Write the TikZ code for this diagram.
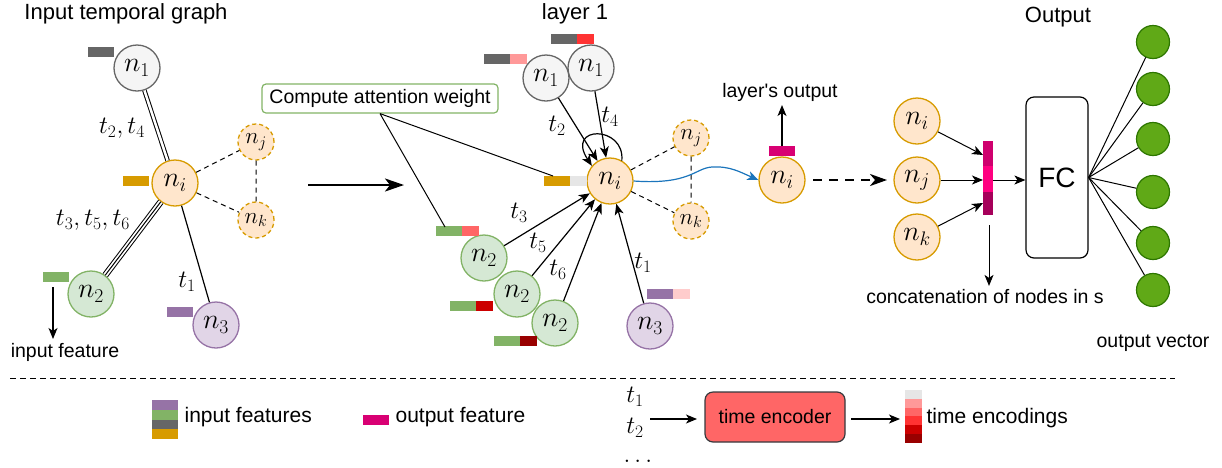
\RequirePackage{fix-cm}
\documentclass[tikz,border=0pt]{standalone}
\usepackage{fontspec}
\setsansfont{Liberation Sans}[Ligatures=TeXOff]
\usepackage{amsmath}
\usetikzlibrary{arrows.meta, positioning, calc}
\definecolor{grayF}{HTML}{F5F5F5}
\definecolor{grayD}{HTML}{666666}
\definecolor{orangeF}{HTML}{FFE6CC}
\definecolor{orangeD}{HTML}{D79B00}
\definecolor{greenF}{HTML}{D5E8D4}
\definecolor{greenD}{HTML}{82B366}
\definecolor{purpleF}{HTML}{E1D5E7}
\definecolor{purpleD}{HTML}{9673A6}
\definecolor{outF}{HTML}{60A917}
\definecolor{outD}{HTML}{2D7600}
\definecolor{outMag}{HTML}{D80073}
\definecolor{catA}{HTML}{CF006E}
\definecolor{catB}{HTML}{FF0080}
\definecolor{catC}{HTML}{A6005A}
\definecolor{encA}{HTML}{E6E6E6}
\definecolor{encB}{HTML}{FF9999}
\definecolor{encC}{HTML}{FF6666}
\definecolor{encD}{HTML}{FF3333}
\definecolor{encE}{HTML}{CC0000}
\definecolor{encF}{HTML}{990000}
\definecolor{encG}{HTML}{FFCCCC}
\definecolor{teD}{HTML}{36393D}
\definecolor{flowBlue}{HTML}{1B75BC}

\begin{document}
\begin{tikzpicture}[x=1pt, y=-1pt, line width=1.2pt, font=\sffamily\fontsize{19.5}{23}\selectfont,
  nd/.style={circle, draw, line width=1.3pt, minimum size=46pt, inner sep=0pt, font=\fontsize{28}{32}\selectfont},
  ndGray/.style={nd, draw=grayD, fill=grayF},
  ndOrange/.style={nd, draw=orangeD, fill=orangeF},
  ndGreen/.style={nd, draw=greenD, fill=greenF},
  ndPurple/.style={nd, draw=purpleD, fill=purpleF},
  ndNbr/.style={ndOrange, minimum size=36pt, dash pattern=on 4pt off 3pt, font=\fontsize{23}{27}\selectfont},
  ndOut/.style={circle, draw=outD, fill=outF, minimum size=33pt, inner sep=0pt},
  tlab/.style={font=\fontsize{25}{29}\selectfont, inner sep=1pt},
  title/.style={font=\sffamily\fontsize{22}{26}\selectfont},
  legend/.style={font=\sffamily\fontsize{21}{25}\selectfont, anchor=west, inner sep=0pt},
  arr/.style={-{Stealth[length=11pt, width=9pt, inset=3pt]}},
  dashln/.style={line width=1pt, dash pattern=on 5pt off 4pt},
]
\useasboundingbox (0,0) rectangle (1222,467);

% input temporal graph
\node[title] (tg) at (126,14) {Input temporal graph};
\node[ndGray] (a1) at (137,68) {$n_1$};
\node[ndOrange] (ai) at (175,183) {$n_i$};
\node[ndNbr] (aj) at (256,142) {$n_j$};
\node[ndNbr] (ak) at (256,220) {$n_k$};
\node[ndGreen] (a2) at (91,294) {$n_2$};
\node[ndPurple] (a3) at (216,325) {$n_3$};
\foreach \x/\y/\c in {88/47/grayD, 123/176/orangeD, 43/272/greenD, 167/307/purpleD}
  \fill[\c] (\x,\y) rectangle ++(26,10);
\draw[double, double distance=2.5pt, line width=1pt] (a1) -- (ai);
\draw[double, double distance=4.5pt, line width=1pt] (a2) -- (ai);
\draw[line width=1pt] (a2) -- (ai);
\draw (ai) -- (a3);
\draw[dashln] (ai) -- (aj) (ai) -- (ak) (aj) -- (ak);
\node[tlab] (l24) at (122,128) {$t_2,t_4$};
\node[tlab] (l356) at (93,220) {$t_3,t_5,t_6$};
\node[tlab] (l1) at (187,282) {$t_1$};
\coordinate (f0) at (53,287);
\node (fl) at (65,352) {input feature};
\draw[arr] (f0) -- (fl.north -| f0);

% big arrow to layer
\coordinate (m0) at (308,185);
\coordinate (m1) at (404,185);
\draw[-{Stealth[length=19pt, width=13pt, inset=5pt]}, line width=2.4pt] (m0) -- (m1);

% layer 1
\node[title] (tl) at (575,14) {layer 1};
\node[ndOrange] (bi) at (610,181) {$n_i$};
\node[ndGray] (b1a) at (546,78) {$n_1$};
\node[ndGray] (b1b) at (591,68) {$n_1$};
\node[ndGreen] (b2a) at (484,258) {$n_2$};
\node[ndGreen] (b2b) at (517,294) {$n_2$};
\node[ndGreen] (b2c) at (555,323) {$n_2$};
\node[ndPurple] (b3) at (650,326) {$n_3$};
\node[ndNbr] (bj) at (691,138) {$n_j$};
\node[ndNbr] (bk) at (691,221) {$n_k$};
\foreach \x/\y/\ca/\cb in {484/54/grayD/encB, 551/34/grayD/encD, 544/176/orangeD/encA,
    436/226/greenD/encC, 450/301/greenD/encE, 494/336/greenD/encF, 647/289/purpleD/encG}{
  \fill[\ca] (\x,\y) rectangle ++(26,10);
  \fill[\cb] (\x+26,\y) rectangle ++(17,10);
}
\foreach \src in {b1a, b1b, b2a, b2b, b2c, b3}
  \draw[arr] (\src) -- (bi);
\draw[arr] (bi.60) .. controls (625,125) and (565,125) .. (bi.140);
\draw[dashln] (bi) -- (bj) (bi) -- (bk) (bj) -- (bk);
\node[tlab] (lt2) at (557,126) {$t_2$};
\node[tlab] (lt4) at (610,117) {$t_4$};
\node[tlab] (lt3) at (519,213) {$t_3$};
\node[tlab] (lt5) at (538,243) {$t_5$};
\node[tlab] (lt6) at (558,270) {$t_6$};
\node[tlab] (lt1) at (643,263) {$t_1$};

% attention
\node[draw=greenD, rounded corners=4pt, minimum width=236pt, minimum height=29pt, inner sep=0pt] (cw) at (380,98.5) {Compute attention weight};
\coordinate (cb2) at (445,227);
\coordinate (cbi) at (553,176);
\draw[line width=1pt] (cw.south) -- (cb2);
\draw[line width=1pt] (cw.south) -- (cbi);

% layer output
\node[ndOrange] (ci) at (782,180) {$n_i$};
\draw[arr, draw=flowBlue] (bi.east) .. controls (690,185) and (695,168) .. (712,167)
  .. controls (730,166) and (740,172) .. (ci.west);
\fill[outMag] (769,146) rectangle ++(26,10);
\coordinate (co) at (782,146);
\node (lo) at (780,92) {layer's output};
\draw[arr] (co) -- (lo.south -| co);
\coordinate (d0) at (813,180);
\coordinate (d1) at (887,180);
\draw[-{Stealth[length=17pt, width=12pt, inset=5pt]}, line width=2.4pt, dash pattern=on 9pt off 7pt] (d0) -- (d1);

% readout
\node[ndOrange] (di) at (917,121) {$n_i$};
\node[ndOrange] (dj) at (917,180) {$n_j$};
\node[ndOrange] (dk) at (917,237) {$n_k$};
\fill[catA] (983,141) rectangle (993,166);
\fill[catB] (983,166) rectangle (993,192);
\fill[catC] (983,192) rectangle (993,215);
\coordinate (ca) at (983,155);
\coordinate (cb) at (983,180);
\coordinate (cc) at (983,203);
\draw[arr, line width=1pt] (di) -- (ca);
\draw[arr, line width=1pt] (dj) -- (cb);
\draw[arr, line width=1pt] (dk) -- (cc);
\coordinate (cd) at (989,225);
\node (lc) at (985,297) {concatenation of nodes in s};
\draw[arr, line width=1pt] (cd) -- (lc.north -| cd);
\node[draw, rounded corners=8pt, minimum width=62pt, minimum height=161pt, inner sep=0pt,
  font=\sffamily\fontsize{28}{32}\selectfont] (fc) at (1057,177.5) {FC};
\coordinate (cr) at (993,180);
\draw[arr, line width=1pt] (cr) -- (cr -| fc.west);
\node[title] (to) at (1058,17) {Output};
\foreach \y [count=\k] in {42,89,139,192,243,290}{
  \node[ndOut] (o\k) at (1153,\y) {};
  \draw[line width=1pt] (fc.east) -- (o\k);
}
\node (lv) at (1153,343) {output vector};

% legend
\draw[line width=1pt, dash pattern=on 6pt off 4pt] (10,378) -- (1175,378);
\foreach \c [count=\k] in {purpleD, greenD, grayD, orangeD}
  \fill[\c] (152,{390.25+9.75*\k}) rectangle ++(26,9.75);
\node[legend] (lin) at (184,417) {input features};
\fill[outMag] (363,415) rectangle ++(26,9.5);
\node[legend] (lout) at (395,417) {output feature};
\node[tlab] (e1) at (635,397) {$t_1$};
\node[tlab, inner sep=0pt] (e2) at (635,428) {$t_2$};
\node[tlab, inner sep=0pt, text height=3pt, text depth=0pt] (e3) at (640,461) {$\dots$};
\node[draw=teD, fill=encC, rounded corners=8pt, minimum width=140pt, minimum height=50pt] (te) at (775,417) {time encoder};
\coordinate (ein0) at (650,419);
\coordinate (ein1) at (697,419);
\coordinate (eout0) at (851,419);
\coordinate (eout1) at (900,419);
\draw[arr] (ein0) -- (ein1);
\draw[arr] (eout0) -- (eout1);
\foreach \c [count=\k] in {encA, encB, encC, encD, encE, encF}
  \fill[\c] (905,{381.2+8.8*\k}) rectangle ++(17,8.8);
\node[legend] (lenc) at (926,418) {time encodings};
\end{tikzpicture}
\end{document}
